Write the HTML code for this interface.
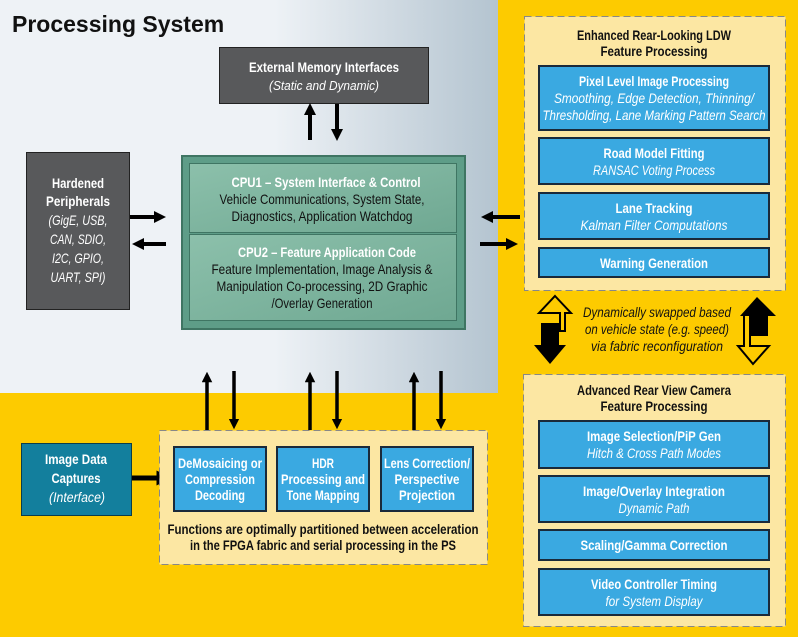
<!DOCTYPE html>
<html><head><meta charset="utf-8"><style>
html,body{margin:0;padding:0;background:#fff}
svg{display:block}
text{font-family:"Liberation Sans",sans-serif;}
.b{font-weight:bold}
.i{font-style:italic}
.w{fill:#fff}
.k{fill:#111}
</style></head><body>
<svg width="800" height="640" viewBox="0 0 800 640" xmlns="http://www.w3.org/2000/svg">
<defs>
<linearGradient id="g" x1="0" x2="1" y1="0" y2="0">
<stop offset="0" stop-color="#eef2f6"/><stop offset="0.55" stop-color="#eef2f6"/><stop offset="1" stop-color="#b4c4d0"/>
</linearGradient>
<linearGradient id="gg" x1="0" x2="1" y1="0" y2="1">
<stop offset="0" stop-color="#8cc0ab"/><stop offset="1" stop-color="#6fa892"/>
</linearGradient>
<marker id="ah" viewBox="0 0 10 10" refX="5" refY="5" markerWidth="3" markerHeight="3" orient="auto-start-reverse"><path d="M0,0 L10,5 L0,10 z" fill="#000"/></marker>
</defs>
<rect x="0" y="0" width="800" height="640" fill="#fff"/>
<rect x="0" y="0" width="798" height="637" fill="#fdcb00"/>
<rect x="0" y="0" width="498" height="393" fill="url(#g)"/>
<text x="12" y="32" class="b" font-size="23" fill="#111">Processing System</text>

<g lengthAdjust="spacingAndGlyphs">
<!-- External memory -->
<rect x="219.5" y="47.5" width="209" height="56" fill="#58595b" stroke="#222"/>
<text x="324" y="72" class="b w" font-size="14" text-anchor="middle" textLength="150" lengthAdjust="spacingAndGlyphs">External Memory Interfaces</text>
<text x="324" y="90" class="i w" font-size="13" text-anchor="middle" textLength="110" lengthAdjust="spacingAndGlyphs">(Static and Dynamic)</text>
</g>
<g stroke="#000" stroke-width="4" marker-end="url(#ah)">
<line x1="310" y1="140" x2="310" y2="109"/>
<line x1="337" y1="104" x2="337" y2="135"/>
</g>

<!-- Hardened -->
<rect x="26.5" y="152.5" width="103" height="157" fill="#58595b" stroke="#222"/>
<g font-size="14" text-anchor="middle">
<text x="78" y="188" class="b w" textLength="52" lengthAdjust="spacingAndGlyphs">Hardened</text>
<text x="78" y="206" class="b w" textLength="64" lengthAdjust="spacingAndGlyphs">Peripherals</text>
<text x="78" y="225" class="i w" textLength="59" lengthAdjust="spacingAndGlyphs">(GigE, USB,</text>
<text x="78" y="244" class="i w" textLength="56" lengthAdjust="spacingAndGlyphs">CAN, SDIO,</text>
<text x="78" y="263" class="i w" textLength="52" lengthAdjust="spacingAndGlyphs">I2C, GPIO,</text>
<text x="78" y="282" class="i w" textLength="55" lengthAdjust="spacingAndGlyphs">UART, SPI)</text>
</g>
<g stroke="#000" stroke-width="4" marker-end="url(#ah)">
<line x1="130" y1="217" x2="160" y2="217"/>
<line x1="166" y1="244" x2="138" y2="244"/>
<line x1="520" y1="217" x2="487" y2="217"/>
<line x1="480" y1="244" x2="512" y2="244"/>
</g>

<!-- CPU -->
<rect x="182" y="156" width="283" height="173" fill="#5e9d88" stroke="#3f7563" stroke-width="2"/>
<rect x="189.5" y="163.5" width="267" height="69" fill="url(#gg)" stroke="#3f7563"/>
<rect x="189.5" y="234.5" width="267" height="86" fill="url(#gg)" stroke="#3f7563"/>
<text x="326" y="187" class="b w" font-size="14" text-anchor="middle" textLength="189" lengthAdjust="spacingAndGlyphs">CPU1 – System Interface &amp; Control</text>
<text x="322" y="204" class="k" font-size="14" text-anchor="middle" textLength="205" lengthAdjust="spacingAndGlyphs">Vehicle Communications, System State,</text>
<text x="322" y="221" class="k" font-size="14" text-anchor="middle" textLength="181" lengthAdjust="spacingAndGlyphs">Diagnostics, Application Watchdog</text>
<text x="327" y="257" class="b w" font-size="14" text-anchor="middle" textLength="178" lengthAdjust="spacingAndGlyphs">CPU2 – Feature Application Code</text>
<text x="322" y="274" class="k" font-size="14" text-anchor="middle" textLength="221" lengthAdjust="spacingAndGlyphs">Feature Implementation, Image Analysis &amp;</text>
<text x="322" y="291" class="k" font-size="14" text-anchor="middle" textLength="211" lengthAdjust="spacingAndGlyphs">Manipulation Co-processing, 2D Graphic</text>
<text x="322" y="308" class="k" font-size="14" text-anchor="middle" textLength="101" lengthAdjust="spacingAndGlyphs">/Overlay Generation</text>

<!-- LDW box -->
<rect x="524.5" y="16.5" width="261" height="274" fill="#fce7a3" stroke="#888" stroke-dasharray="7,4"/>
<text x="654" y="40" class="b k" font-size="14" text-anchor="middle" textLength="154" lengthAdjust="spacingAndGlyphs">Enhanced Rear-Looking LDW</text>
<text x="654" y="56" class="b k" font-size="14" text-anchor="middle" textLength="107" lengthAdjust="spacingAndGlyphs">Feature Processing</text>
<g fill="#3aa9e1" stroke="#1a2a3a" stroke-width="2">
<rect x="539" y="66" width="230" height="64"/>
<rect x="539" y="138" width="230" height="46"/>
<rect x="539" y="193" width="230" height="46"/>
<rect x="539" y="248" width="230" height="29"/>
</g>
<g font-size="14" text-anchor="middle">
<text x="654" y="86" class="b w" textLength="150" lengthAdjust="spacingAndGlyphs">Pixel Level Image Processing</text>
<text x="654" y="103" class="i w" textLength="200" lengthAdjust="spacingAndGlyphs">Smoothing, Edge Detection, Thinning/</text>
<text x="654" y="120" class="i w" textLength="223" lengthAdjust="spacingAndGlyphs">Thresholding, Lane Marking Pattern Search</text>
<text x="654" y="158" class="b w" textLength="101" lengthAdjust="spacingAndGlyphs">Road Model Fitting</text>
<text x="654" y="175" class="i w" textLength="122" lengthAdjust="spacingAndGlyphs">RANSAC Voting Process</text>
<text x="654" y="213" class="b w" textLength="77" lengthAdjust="spacingAndGlyphs">Lane Tracking</text>
<text x="654" y="230" class="i w" textLength="147" lengthAdjust="spacingAndGlyphs">Kalman Filter Computations</text>
<text x="654" y="268" class="b w" textLength="108" lengthAdjust="spacingAndGlyphs">Warning Generation</text>
</g>

<!-- swap -->
<path d="M555,296 L571,313 L565,313 L565,331 L560,331 L560,313 L539,313 z" fill="none" stroke="#000" stroke-width="2"/>
<path d="M541,323 L559,323 L559,345 L566,345 L550,364 L534,345 L541,345 z" fill="#000"/>
<path d="M757,297 L776,316 L768,316 L768,336 L749,336 L749,316 L740,316 z" fill="#000"/>
<path d="M744,316 L744,346 L738,346 L753,364 L769,346 L750,346 L750,330" fill="none" stroke="#000" stroke-width="2"/>
<g font-size="14" text-anchor="middle" class="i k">
<text x="657" y="317" textLength="148" lengthAdjust="spacingAndGlyphs">Dynamically swapped based</text>
<text x="657" y="334" textLength="144" lengthAdjust="spacingAndGlyphs">on vehicle state (e.g. speed)</text>
<text x="657" y="351" textLength="132" lengthAdjust="spacingAndGlyphs">via fabric reconfiguration</text>
</g>

<!-- Advanced -->
<rect x="523.5" y="374.5" width="262" height="252" fill="#fce7a3" stroke="#888" stroke-dasharray="7,4"/>
<text x="654" y="395" class="b k" font-size="14" text-anchor="middle" textLength="154" lengthAdjust="spacingAndGlyphs">Advanced Rear View Camera</text>
<text x="654" y="411" class="b k" font-size="14" text-anchor="middle" textLength="107" lengthAdjust="spacingAndGlyphs">Feature Processing</text>
<g fill="#3aa9e1" stroke="#1a2a3a" stroke-width="2">
<rect x="539" y="421" width="230" height="47"/>
<rect x="539" y="476" width="230" height="46"/>
<rect x="539" y="530" width="230" height="30"/>
<rect x="539" y="569" width="230" height="46"/>
</g>
<g font-size="14" text-anchor="middle">
<text x="654" y="441" class="b w" textLength="134" lengthAdjust="spacingAndGlyphs">Image Selection/PiP Gen</text>
<text x="654" y="458" class="i w" textLength="134" lengthAdjust="spacingAndGlyphs">Hitch &amp; Cross Path Modes</text>
<text x="654" y="496" class="b w" textLength="142" lengthAdjust="spacingAndGlyphs">Image/Overlay Integration</text>
<text x="654" y="513" class="i w" textLength="71" lengthAdjust="spacingAndGlyphs">Dynamic Path</text>
<text x="654" y="550" class="b w" textLength="147" lengthAdjust="spacingAndGlyphs">Scaling/Gamma Correction</text>
<text x="654" y="589" class="b w" textLength="126" lengthAdjust="spacingAndGlyphs">Video Controller Timing</text>
<text x="654" y="606" class="i w" textLength="97" lengthAdjust="spacingAndGlyphs">for System Display</text>
</g>

<!-- Bottom left -->
<rect x="21.5" y="443.5" width="110" height="72" fill="#137f9d" stroke="#0b3d4a"/>
<g font-size="14" text-anchor="middle">
<text x="76" y="464" class="b w" textLength="62" lengthAdjust="spacingAndGlyphs">Image Data</text>
<text x="76" y="483" class="b w" textLength="49" lengthAdjust="spacingAndGlyphs">Captures</text>
<text x="77" y="502" class="i w" textLength="56" lengthAdjust="spacingAndGlyphs">(Interface)</text>
</g>
<line x1="132" y1="478" x2="164" y2="478" stroke="#000" stroke-width="5" marker-end="url(#ah)"/>

<rect x="159.5" y="430.5" width="328" height="134" fill="#fce7a3" stroke="#888" stroke-dasharray="7,4"/>
<g fill="#3aa9e1" stroke="#1a2a3a" stroke-width="2">
<rect x="174" y="447" width="92" height="64"/>
<rect x="277" y="447" width="92" height="64"/>
<rect x="381" y="447" width="92" height="64"/>
</g>
<g font-size="14" text-anchor="middle" class="b">
<text x="220" y="468" class="w" textLength="84" lengthAdjust="spacingAndGlyphs">DeMosaicing or</text>
<text x="220" y="484" class="w" textLength="70" lengthAdjust="spacingAndGlyphs">Compression</text>
<text x="220" y="500" class="w" textLength="50" lengthAdjust="spacingAndGlyphs">Decoding</text>
<text x="323" y="468" class="w" textLength="22" lengthAdjust="spacingAndGlyphs">HDR</text>
<text x="323" y="484" class="w" textLength="84" lengthAdjust="spacingAndGlyphs">Processing and</text>
<text x="323" y="500" class="w" textLength="73" lengthAdjust="spacingAndGlyphs">Tone Mapping</text>
<text x="427" y="468" class="w" textLength="86" lengthAdjust="spacingAndGlyphs">Lens Correction/</text>
<text x="427" y="484" class="w" textLength="65" lengthAdjust="spacingAndGlyphs">Perspective</text>
<text x="427" y="500" class="w" textLength="56" lengthAdjust="spacingAndGlyphs">Projection</text>
<text x="323" y="534" class="k" textLength="311" lengthAdjust="spacingAndGlyphs">Functions are optimally partitioned between acceleration</text>
<text x="323" y="550" class="k" textLength="266" lengthAdjust="spacingAndGlyphs">in the FPGA fabric and serial processing in the PS</text>
</g>
<g stroke="#000" stroke-width="3.5" marker-end="url(#ah)">
<line x1="207" y1="430" x2="207" y2="377"/>
<line x1="234" y1="371" x2="234" y2="424"/>
<line x1="310" y1="430" x2="310" y2="377"/>
<line x1="337" y1="371" x2="337" y2="424"/>
<line x1="414" y1="430" x2="414" y2="377"/>
<line x1="441" y1="371" x2="441" y2="424"/>
</g>
</svg>
</body></html>
